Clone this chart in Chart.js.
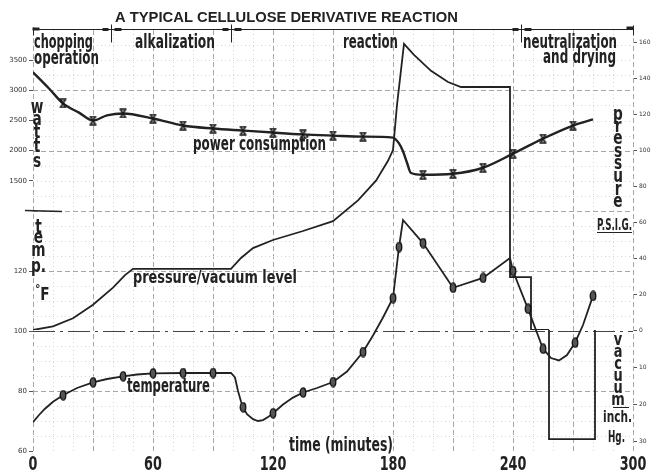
<!DOCTYPE html>
<html>
<head>
<meta charset="utf-8">
<script src="https://cdn.jsdelivr.net/npm/chart.js@4.4.1/dist/chart.umd.min.js"></script>
<style>
  html, body { margin: 0; padding: 0; background: #fff; }
  #wrap { width: 658px; height: 475px; }
</style>
</head>
<body>
<div id="wrap"><canvas id="c"></canvas></div>
<script>
// --- data ---

// power consumption, watts
const powerTime  = [0, 8, 15, 23, 30, 37, 45, 60, 75, 90, 105, 120, 135, 150, 165, 180, 183, 185, 187, 189, 195, 210, 225, 240, 255, 270, 280];
const powerWatts = [3300, 3030, 2783, 2630, 2500, 2585, 2617, 2533, 2417, 2367, 2333, 2300, 2270, 2250, 2233, 2217, 2120, 1990, 1800, 1630, 1600, 1617, 1717, 1950, 2200, 2417, 2517];
const powerMarks = [15, 30, 45, 60, 75, 90, 105, 120, 135, 150, 165, 195, 210, 225, 240, 255, 270];

// temperature, deg F
const tempTime = [0, 3, 6, 10, 15, 22, 30, 37, 45, 52, 60, 75, 90, 99, 101, 102.5, 104, 105, 107, 110, 112.5, 115, 117.5, 120, 125, 130, 135, 142, 150, 157, 165, 170, 175, 180, 183, 185, 195, 210, 225, 238.5, 240, 247.5, 255, 259, 263, 267, 271, 275, 280];
const tempF    = [69.6, 72, 74.1, 76.4, 78.6, 81, 82.9, 84, 84.9, 85.5, 85.9, 86, 86, 86, 84.5, 80, 76.5, 74.6, 72.3, 70.6, 70, 70.3, 71.3, 72.6, 75.5, 77.8, 79.5, 81, 83, 86.5, 93, 98.5, 104.5, 111, 128, 137, 129.3, 114.4, 117.7, 124.3, 120, 107.4, 94.1, 91, 90.2, 92, 96.1, 102, 111.7];
const tempMarks = [15, 30, 45, 60, 75, 90, 105, 120, 135, 150, 165, 180, 183, 195, 210, 225, 240, 247.5, 255, 271, 280];

// pressure level, psig
const pressTime = [0, 10, 20, 30, 40, 46, 50, 99, 104, 110, 120, 135, 150, 162.5, 171.5, 177.5, 180, 182, 185.5, 190.5, 199, 207.5, 214, 238.5, 238.5, 249, 249, 258];
const pressPsi  = [0, 2, 6.5, 14, 23.5, 30.5, 34, 34, 40, 45.5, 50, 55, 60.5, 72, 83, 94, 100, 125, 159, 152.8, 144, 137.8, 135, 135, 29.4, 29.4, 0, 0];

// vacuum level, inch Hg
const vacTime = [258, 258, 281, 281];
const vacInHg = [0, 29.5, 29.5, 0];

// tick labels
const wattTicks  = [1500, 2000, 2500, 3000, 3500];
const tempTicks  = [60, 80, 100, 120];
const psiTicks   = [20, 40, 60, 80, 100, 120, 140, 160];
const vacTicks   = [0, 10, 20, 30];

// process phases (minutes)
const phaseBounds = [0, 39, 99, 244, 300];

const FONT = '"DejaVu Sans", "Liberation Sans", sans-serif';
const INK = '#222';

function pts(xs, ys) { return xs.map((x, i) => ({ x: x, y: ys[i] })); }

function markCross() {
    const c = document.createElement('canvas');
    c.width = 9; c.height = 10;
    const g = c.getContext('2d');
    g.strokeStyle = '#1a1a1a'; g.lineWidth = 1.5;
    g.beginPath();
    g.moveTo(1, 1); g.lineTo(8, 1);
    g.moveTo(1, 9); g.lineTo(8, 9);
    g.moveTo(2, 1); g.lineTo(7, 9);
    g.moveTo(7, 1); g.lineTo(2, 9);
    g.stroke();
    return c;
}

function markOval() {
    const c = document.createElement('canvas');
    c.width = 8; c.height = 11;
    const g = c.getContext('2d');
    g.fillStyle = '#555'; g.strokeStyle = '#111'; g.lineWidth = 1.3;
    g.beginPath();
    g.ellipse(4, 5.5, 2.8, 4.6, 0, 0, Math.PI * 2);
    g.fill(); g.stroke();
    return c;
}

const crossImg = markCross();
const ovalImg = markOval();

// condensed text: squeeze a bold face to the wanted width
function fitText(ctx, text, x, y, size, width) {
    ctx.font = 'bold ' + size + 'px ' + FONT;
    const m = ctx.measureText(text).width;
    ctx.save();
    ctx.translate(x, y);
    ctx.scale(width / m, 1);
    ctx.textAlign = 'left';
    ctx.textBaseline = 'alphabetic';
    ctx.fillText(text, 0, 0);
    ctx.restore();
}

function column(ctx, letters, cx, baselines, size, sx) {
    ctx.font = 'bold ' + size + 'px ' + FONT;
    letters.forEach((ch, i) => {
        ctx.save();
        ctx.translate(cx, baselines[i]);
        ctx.scale(sx, 1);
        ctx.textAlign = 'center';
        ctx.textBaseline = 'alphabetic';
        ctx.fillText(ch, 0, 0);
        ctx.restore();
    });
}

const paperGrid = {
    id: 'paperGrid',
    beforeDatasetsDraw(chart) {
        const { ctx, chartArea: a, scales } = chart;
        const x = scales.x, yW = scales.yW, yT = scales.yT;
        ctx.save();
        function hline(py, major) {
            py = Math.round(py) + 0.5;
            ctx.strokeStyle = major ? '#a8a8a8' : '#d6d6d6';
            ctx.setLineDash(major ? [5, 3] : [1, 3]);
            ctx.lineWidth = 1;
            ctx.beginPath(); ctx.moveTo(a.left, py); ctx.lineTo(a.right, py); ctx.stroke();
        }
        for (let t = 0; t <= 300; t += 10) {
            const px = Math.round(x.getPixelForValue(t)) + 0.5;
            const major = t % 30 === 0;
            ctx.strokeStyle = major ? '#a8a8a8' : '#d6d6d6';
            ctx.setLineDash(major ? [5, 3] : [1, 3]);
            ctx.lineWidth = 1;
            ctx.beginPath(); ctx.moveTo(px, a.top); ctx.lineTo(px, a.bottom); ctx.stroke();
        }
        for (let w = 1250; w < 4000; w += 250) hline(yW.getPixelForValue(w), w % 1000 === 0);
        hline(yW.getPixelForValue(1000), true);
        for (let f = 65; f < 140; f += 5) {
            if (f === 100) continue;
            hline(yT.getPixelForValue(f), f % 20 === 0);
        }
        // zero / 100 F reference, dash-dot
        const pz = Math.round(yT.getPixelForValue(100)) + 0.5;
        ctx.strokeStyle = '#444';
        ctx.lineWidth = 1.2;
        ctx.setLineDash([22, 5, 3, 5]);
        ctx.beginPath(); ctx.moveTo(a.left, pz); ctx.lineTo(a.right, pz); ctx.stroke();
        ctx.restore();
    }
};

const labels = {
    id: 'labels',
    afterDatasetsDraw(chart) {
        const { ctx, chartArea: a, scales } = chart;
        const x = scales.x;
        ctx.save();
        ctx.fillStyle = INK;
        ctx.strokeStyle = INK;

        // phase time line along the top
        const ty = a.top - 0.5;
        ctx.lineWidth = 1;
        ctx.beginPath(); ctx.moveTo(a.left, ty); ctx.lineTo(a.right, ty); ctx.stroke();
        phaseBounds.forEach((t, i) => {
            const px = Math.round(x.getPixelForValue(t)) + 0.5;
            if (i === 0) {
                ctx.fillRect(px - 1, ty - 2, 7, 3);
                ctx.beginPath(); ctx.moveTo(px, ty - 2); ctx.lineTo(px, ty + 6); ctx.stroke();
            } else if (i === phaseBounds.length - 1) {
                ctx.fillRect(px - 7, ty - 3, 7, 3);
                ctx.beginPath(); ctx.moveTo(px, ty - 4); ctx.lineTo(px, ty + 6); ctx.stroke();
            } else {
                ctx.fillRect(px - 9, ty - 1.5, 6, 3);
                ctx.fillRect(px + 3, ty - 1.5, 7, 3);
                ctx.beginPath(); ctx.moveTo(px, ty - 5); ctx.lineTo(px, ty + 13); ctx.stroke();
            }
        });

        // time tick labels, condensed, at the x axis ticks
        ctx.font = 'bold 20px ' + FONT;
        x.ticks.forEach(tk => {
            const px = x.getPixelForValue(tk.value);
            ctx.save();
            ctx.translate(px, 470);
            ctx.scale(0.64, 1);
            ctx.textAlign = 'center';
            ctx.textBaseline = 'alphabetic';
            ctx.fillText(String(tk.value), 0, 0);
            ctx.restore();
        });

        // title
        ctx.font = 'bold 14px "Liberation Sans", Arial, sans-serif';
        ctx.save();
        const tw = ctx.measureText('A TYPICAL CELLULOSE DERIVATIVE REACTION').width;
        ctx.translate(115, 22);
        ctx.scale(343 / tw, 1);
        ctx.fillText('A TYPICAL CELLULOSE DERIVATIVE REACTION', 0, 0);
        ctx.restore();

        // phase names
        fitText(ctx, 'chopping', 34, 48, 19, 59);
        fitText(ctx, 'operation', 34, 64, 19, 65);
        fitText(ctx, 'alkalization', 135, 48, 19, 80);
        fitText(ctx, 'reaction', 343, 48, 19, 55);
        fitText(ctx, 'neutralization', 523, 48, 19, 94);
        fitText(ctx, 'and drying', 543, 63, 19, 73);

        // curve names
        fitText(ctx, 'power consumption', 193, 150, 19, 133);
        fitText(ctx, 'pressure/vacuum level', 133, 283, 18, 164);
        fitText(ctx, 'temperature', 127, 392, 19, 83);
        fitText(ctx, 'time (minutes)', 289, 451, 19, 104);

        // axis names, stacked letters
        column(ctx, ['w', 'a', 't', 't', 's'], 37, [113, 125, 138, 152, 167], 19, 0.72);
        column(ctx, ['t', 'e', 'm', 'p.'], 38.5, [233, 243, 256, 272], 19, 0.72);
        column(ctx, ['F'], 45, [300], 17, 0.8);
        ctx.font = 'bold 11px ' + FONT;
        ctx.fillText('°', 35, 292);
        column(ctx, ['p', 'r', 'e', 's', 's', 'u', 'r', 'e'], 618, [120, 132, 144, 157, 169, 182, 195, 207], 19, 0.72);
        column(ctx, ['v', 'a', 'c', 'u', 'u', 'm'], 618, [345, 357, 369, 381, 393, 405], 18, 0.72);
        fitText(ctx, 'P.S.I.G.', 597, 230, 15, 35);
        fitText(ctx, 'inch.', 603, 422, 16, 29);
        fitText(ctx, 'Hg.', 608, 442, 16, 17);
        ctx.lineWidth = 1.2;
        ctx.beginPath();
        ctx.moveTo(597, 232.5); ctx.lineTo(632, 232.5);
        ctx.moveTo(613, 407.5); ctx.lineTo(629, 407.5);
        ctx.stroke();

        // section divider mark on the left
        ctx.lineWidth = 1.6;
        const dy = Math.round(scales.yW.getPixelForValue(1000)) + 0.5;
        ctx.beginPath(); ctx.moveTo(25, dy - 1); ctx.lineTo(62, dy); ctx.stroke();
        ctx.restore();
    }
};

function sideAxis(pos, stack, weight, min, max, tickVals, fontSize, extra) {
    return Object.assign({
        type: 'linear',
        position: pos,
        stack: stack,
        stackWeight: weight,
        min: min,
        max: max,
        afterBuildTicks: s => { s.ticks = tickVals.map(v => ({ value: v })); },
        afterFit: s => { s.width = pos === 'left' ? 33 : 25; },
        ticks: { color: '#333', padding: 2, font: { family: FONT, size: fontSize }, callback: v => String(v) },
        grid: { drawOnChartArea: false, drawTicks: true, tickLength: 4, tickColor: '#555', tickWidth: 1 },
        border: { display: false }
    }, extra || {});
}

new Chart(document.getElementById('c'), {
    type: 'line',
    data: {
        datasets: [
            {
                label: 'power consumption',
                data: pts(powerTime, powerWatts),
                yAxisID: 'yW',
                borderColor: INK,
                borderWidth: 2.4,
                cubicInterpolationMode: 'monotone',
                pointStyle: crossImg,
                pointRadius: c => powerMarks.includes(powerTime[c.dataIndex]) ? 4 : 0
            },
            {
                label: 'temperature',
                data: pts(tempTime, tempF),
                yAxisID: 'yT',
                borderColor: INK,
                borderWidth: 1.8,
                tension: 0,
                pointStyle: ovalImg,
                pointRadius: c => tempMarks.includes(tempTime[c.dataIndex]) ? 4 : 0
            },
            {
                label: 'pressure',
                data: pts(pressTime, pressPsi),
                yAxisID: 'yP',
                borderColor: INK,
                borderWidth: 1.8,
                tension: 0,
                pointRadius: 0
            },
            {
                label: 'vacuum',
                data: pts(vacTime, vacInHg),
                yAxisID: 'yV',
                borderColor: INK,
                borderWidth: 1.8,
                tension: 0,
                pointRadius: 0
            }
        ]
    },
    options: {
        responsive: true,
        maintainAspectRatio: false,
        animation: false,
        layout: { padding: { top: 30, left: 0, right: 0, bottom: 0 } },
        plugins: {
            legend: { display: false },
            tooltip: { enabled: false }
        },
        scales: {
            x: {
                type: 'linear',
                min: 0,
                max: 300,
                ticks: { stepSize: 60, autoSkip: false, maxRotation: 0, display: false },
                grid: { display: false },
                border: { display: false },
                afterFit: s => { s.height = 24; }
            },
            yT: sideAxis('left', 'L', 240, 60, 140, tempTicks, 7),
            yW: sideAxis('left', 'L', 181, 1000, 4000, wattTicks, 7),
            yP: sideAxis('right', 'R', 300, 0, 166.67, psiTicks, 6),
            yV: sideAxis('right', 'R', 121, 0, 32.7, vacTicks, 6, { reverse: true })
        }
    },
    plugins: [paperGrid, labels]
});
</script>
</body>
</html>
